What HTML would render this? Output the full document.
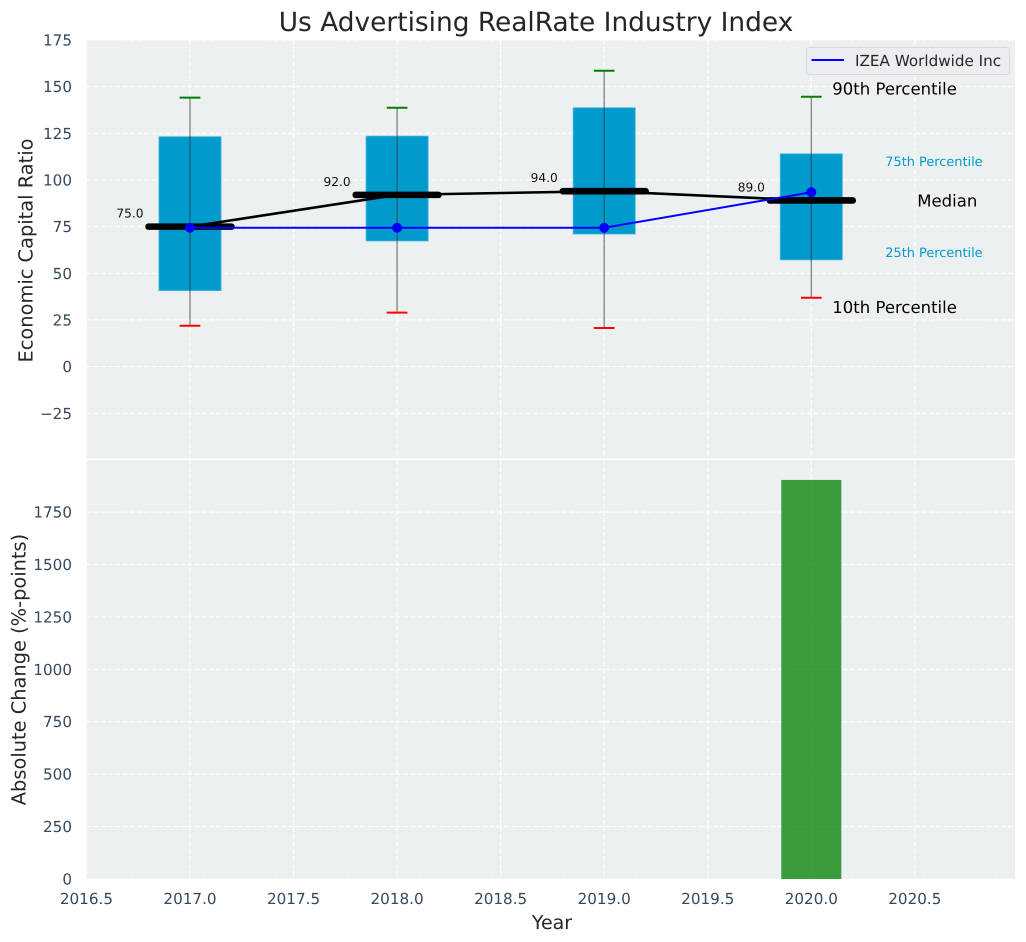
<!DOCTYPE html>
<html lang="en">
<head>
<meta charset="utf-8">
<title>Us Advertising RealRate Industry Index</title>
<style>
html,body{margin:0;padding:0;background:#fff;}
svg{display:block;}
text{font-family:"DejaVu Sans","Liberation Sans",sans-serif;text-rendering:geometricPrecision;}
</style>
</head>
<body>
<svg id="chart" xmlns="http://www.w3.org/2000/svg" width="1026" height="942" viewBox="0 0 1026 942"></svg>
<script>
const years = [2017, 2018, 2019, 2020];
const p10 = [21.9, 28.9, 20.7, 36.9];
const q1 = [40.7, 67.3, 71, 57.2];
const medians = [75, 92, 94, 89];
const q3 = [123.2, 123.5, 138.7, 114];
const p90 = [144.1, 138.7, 158.5, 144.6];
const company = [74.4, 74.4, 74.4, 93.4];
const changes = [0, 0, 0, 1903];
const xTicks = [2016.5, 2017, 2017.5, 2018, 2018.5, 2019, 2019.5, 2020, 2020.5];
const xTickLabels = ['2016.5', '2017.0', '2017.5', '2018.0', '2018.5', '2019.0', '2019.5', '2020.0', '2020.5'];
const topTicks = [-25, 0, 25, 50, 75, 100, 125, 150, 175];
const topTickLabels = ['\u221225', '0', '25', '50', '75', '100', '125', '150', '175'];
const bottomTicks = [0, 250, 500, 750, 1000, 1250, 1500, 1750];
const bottomTickLabels = ['0', '250', '500', '750', '1000', '1250', '1500', '1750'];

const svg = document.getElementById('chart');
const NS = 'http://www.w3.org/2000/svg';
const L = 86.5, R = 1015, T1 = 40, B1 = 458.5, T2 = 460, B2 = 879;
const sx = v => 190 + (v - 2017) * 207.1;
const sy1 = v => 366.6 - v * 1.8665;
const sy2 = v => 879 - v * 0.2097;

function make(tag, attrs, text) {
  const el = document.createElementNS(NS, tag);
  for (const k in attrs) el.setAttribute(k, attrs[k]);
  if (text !== undefined) el.textContent = text;
  svg.appendChild(el);
  return el;
}
let el;

el = make('rect', {x: L, y: T1, width: R - L, height: B1 - T1, fill: '#ecf0f1'});


el = make('rect', {x: L, y: T2, width: R - L, height: B2 - T2, fill: '#ecf0f1'});



const gridStyle = {stroke: '#ffffff', 'stroke-width': 1.1, 'stroke-dasharray': '5 2.2', fill: 'none'};
xTicks.forEach((t, i) => {
  let g = make('line', Object.assign({x1: sx(t), x2: sx(t), y1: T1, y2: B1}, gridStyle));
  
  
  g = make('line', Object.assign({x1: sx(t), x2: sx(t), y1: T2, y2: B2}, gridStyle));
  
  
  const lab = make('text', {x: sx(t), y: 904, 'text-anchor': 'middle', 'font-size': 15.2, fill: '#34495e'}, xTickLabels[i]);
  
  
});
topTicks.forEach((t, i) => {
  const g = make('line', Object.assign({x1: L, x2: R, y1: sy1(t), y2: sy1(t)}, gridStyle));
  
  
  const lab = make('text', {x: 72, y: sy1(t) + 5.5, 'text-anchor': 'end', 'font-size': 15.2, fill: '#34495e'}, topTickLabels[i]);
  
  
});
bottomTicks.forEach((t, i) => {
  const g = make('line', Object.assign({x1: L, x2: R, y1: sy2(t), y2: sy2(t)}, gridStyle));
  
  
  const lab = make('text', {x: 72, y: sy2(t) + 5.5, 'text-anchor': 'end', 'font-size': 15.2, fill: '#34495e'}, bottomTickLabels[i]);
  
  
});

const boxW = 0.3, medW = 0.4, capW = 0.14;
years.forEach((yr, i) => {
  let m = make('rect', {x: sx(yr - boxW / 2), y: sy1(q3[i]), width: sx(yr + boxW / 2) - sx(yr - boxW / 2), height: sy1(q1[i]) - sy1(q3[i]), fill: '#009acd', stroke: '#4db8dc', 'stroke-width': 0.8});
  
  
  m = make('line', {x1: sx(yr), x2: sx(yr), y1: sy1(p10[i]), y2: sy1(p90[i]), stroke: '#333333', 'stroke-opacity': 0.6, 'stroke-width': 1.3});
  
  
  m = make('line', {x1: sx(yr - capW / 2.8), x2: sx(yr + capW / 2.8), y1: sy1(p90[i]), y2: sy1(p90[i]), stroke: '#008000', 'stroke-width': 2});
  
  
  m = make('line', {x1: sx(yr - capW / 2.8), x2: sx(yr + capW / 2.8), y1: sy1(p10[i]), y2: sy1(p10[i]), stroke: '#ff0000', 'stroke-width': 2});
  
  
});

const medianPath = make('polyline', {points: years.map((yr, i) => sx(yr) + ',' + sy1(medians[i])).join(' '), fill: 'none', stroke: '#000000', 'stroke-width': 2.6});



years.forEach((yr, i) => {
  const m = make('line', {x1: sx(yr - medW / 2), x2: sx(yr + medW / 2), y1: sy1(medians[i]), y2: sy1(medians[i]), stroke: '#000000', 'stroke-width': 6.6, 'stroke-linecap': 'round'});
  
  
  const lab = make('text', {x: sx(yr) - 60, y: sy1(medians[i]) - 9, 'text-anchor': 'middle', 'font-size': 12.2, fill: '#111111'}, medians[i].toFixed(1));
  
  
});

const companyPath = make('polyline', {points: years.map((yr, i) => sx(yr) + ',' + sy1(company[i])).join(' '), fill: 'none', stroke: '#0000ff', 'stroke-width': 2});


years.forEach((yr, i) => {
  const p = make('circle', {cx: sx(yr), cy: sy1(company[i]), r: 5, fill: '#0000ff'});
  
  
});

years.forEach((yr, i) => {
  const b = make('rect', {x: sx(yr - 0.145), y: sy2(changes[i]), width: sx(yr + 0.145) - sx(yr - 0.145), height: sy2(0) - sy2(changes[i]), fill: '#008000', 'fill-opacity': 0.75});
  
  
});

const last = years.length - 1;
const lx = sx(years[last]);
el = make('text', {x: lx + 21, y: sy1(p90[last] + 4.5) + 6, 'font-size': 16.5, fill: '#000'}, '90th Percentile');


el = make('text', {x: lx + 21, y: sy1(p10[last] - 5) + 6, 'font-size': 16.5, fill: '#000'}, '10th Percentile');


el = make('text', {x: lx + 106, y: sy1(medians[last]) + 6, 'font-size': 16.5, fill: '#000'}, 'Median');


el = make('text', {x: lx + 74, y: sy1(q3[last] - 4) + 4.5, 'font-size': 12.9, fill: '#009acd'}, '75th Percentile');


el = make('text', {x: lx + 74, y: sy1(q1[last] + 4) + 4.5, 'font-size': 12.9, fill: '#009acd'}, '25th Percentile');



el = make('rect', {x: 806.5, y: 47.5, width: 203, height: 27, rx: 3, fill: '#ecedf1', stroke: '#d8dade', 'stroke-width': 1});


el = make('line', {x1: 811.5, x2: 844, y1: 60, y2: 60, stroke: '#0000ff', 'stroke-width': 1.9});


el = make('text', {x: 855, y: 66, 'font-size': 15.2, fill: '#262626'}, 'IZEA Worldwide Inc');



el = make('text', {x: 536, y: 31, 'text-anchor': 'middle', 'font-size': 26.4, fill: '#262626'}, 'Us Advertising RealRate Industry Index');


el = make('text', {x: 552, y: 929, 'text-anchor': 'middle', 'font-size': 19, fill: '#262626'}, 'Year');


el = make('text', {x: 0, y: 0, transform: 'translate(32.5,250.5) rotate(-90)', 'text-anchor': 'middle', 'font-size': 19.4, fill: '#262626'}, 'Economic Capital Ratio');


el = make('text', {x: 0, y: 0, transform: 'translate(25.5,669.5) rotate(-90)', 'text-anchor': 'middle', 'font-size': 19.4, fill: '#262626'}, 'Absolute Change (%-points)');


</script>
</body>
</html>
